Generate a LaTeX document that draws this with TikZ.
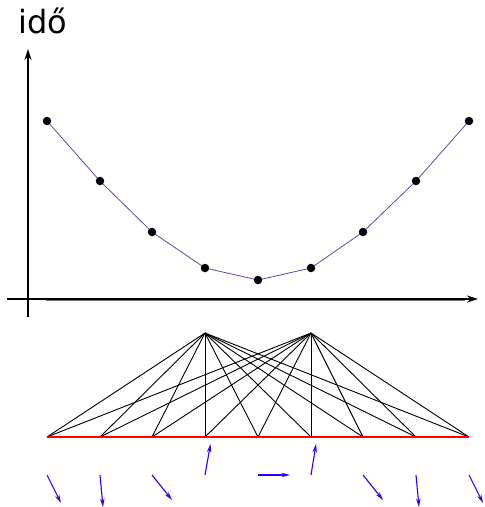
\documentclass[tikz,border=0pt]{standalone}
\usepackage{fontspec}
\setmainfont{DejaVu Sans}
\usetikzlibrary{arrows.meta}
\definecolor{curveblue}{RGB}{80,80,170}
\definecolor{vecblue}{RGB}{40,0,255}
\tikzset{
  dot/.style={circle,fill=black,inner sep=0pt,minimum size=8.5pt},
  fan/.style={black,line width=0.9pt},
  vec/.style={vecblue,line width=1.1pt,-{Stealth[length=8.5pt,width=4.5pt]}},
  axis/.style={black,line width=1.4pt,-{Stealth[length=11pt,width=7pt]}},
}
\begin{document}
\begin{tikzpicture}[x=1pt,y=-1pt]
\useasboundingbox (0,0) rectangle (485,507);
\node[anchor=base west,inner sep=0pt,font=\fontsize{32}{36}\selectfont] (lbl) at (18,33) {idő};
% axes
\coordinate (ybot) at (28,317);
\coordinate (ytop) at (28,49);
\coordinate (xleft) at (7,299);
\coordinate (xright) at (478,299);
\draw[black!55,line width=1.6pt] (46,300.5) -- (465,300.5);
\draw[axis] (ybot) -- (ytop);
\draw[axis] (xleft) -- (xright);
% points on curve
\foreach \i/\x/\y in {1/47/121,2/100/181,3/152/232,4/205/268,5/258/280,6/311/268,7/363/232,8/416/181,9/469/121}{
  \coordinate (c\i) at (\x,\y);
}
\draw[curveblue,line width=0.8pt] (c1) \foreach \i in {2,...,9}{ -- (c\i)};
\foreach \i in {1,...,9}{ \node[dot] (d\i) at (c\i) {}; }
% bottom points
\foreach \i/\x in {1/47,2/100,3/152,4/205,5/258,6/311,7/363,8/416,9/469}{
  \coordinate (b\i) at (\x,437);
}
\coordinate (apexA) at (205,333);
\coordinate (apexB) at (311,333);
\foreach \i in {1,...,9}{
  \draw[fan] (apexA) -- (b\i);
  \draw[fan] (apexB) -- (b\i);
}
\draw[red,line width=1.3pt] (b1) -- (b9);
% gradient vectors
\foreach \i/\x/\ex/\ey in {1/47/61/503,2/100/103/507,3/152/172/500,4/205/210.5/444,5/258/290/475,6/311/316/444,7/363/383/500,8/416/419/507,9/469/483/503}{
  \coordinate (vs\i) at (\x,475);
  \coordinate (ve\i) at (\ex,\ey);
  \draw[vec] (vs\i) -- (ve\i);
}
\end{tikzpicture}
\end{document}
